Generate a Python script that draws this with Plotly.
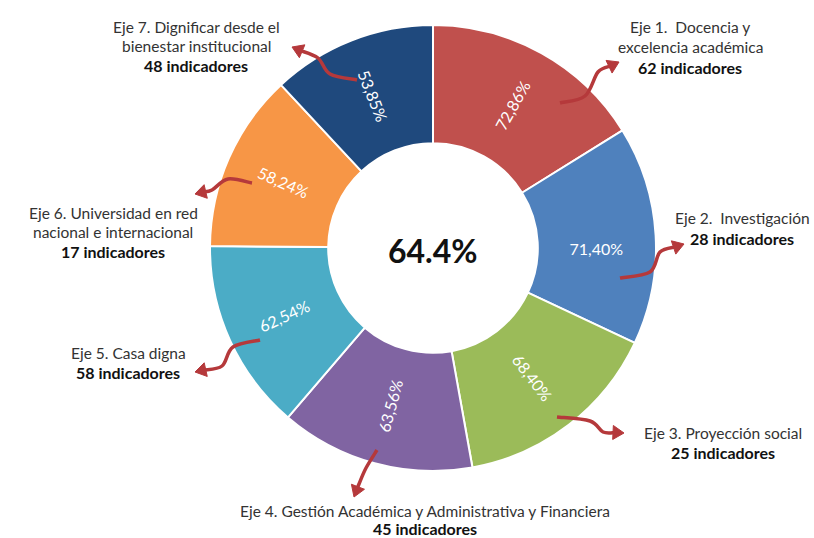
import plotly.graph_objects as go

# ---- data ----
ejes = ["Eje 1", "Eje 2", "Eje 3", "Eje 4", "Eje 5", "Eje 6", "Eje 7"]
cumplimiento = [72.86, 71.40, 68.40, 63.56, 62.54, 58.24, 53.85]
indicadores = [62, 28, 25, 45, 58, 17, 48]
nombres = [
    ["Eje 1.  Docencia y", "excelencia académica"],
    ["Eje 2.  Investigación"],
    ["Eje 3. Proyección social"],
    ["Eje 4. Gestión Académica y Administrativa y Financiera"],
    ["Eje 5. Casa digna"],
    ["Eje 6. Universidad en red", "nacional e internacional"],
    ["Eje 7. Dignificar desde el", "bienestar institucional"],
]
total = "64.4%"
colores = ["#C0504D", "#4F81BD", "#9BBB59", "#8064A2", "#4BACC6", "#F79646", "#1F497D"]

W, H = 814, 538
FONT = "Lato"

def px(x, y):
    return x / W, 1 - y / H

textos = [f"{v:.2f}".replace(".", ",") + "%" for v in cumplimiento]

fig = go.Figure()
cx, cy, r = 433, 248, 223
fig.add_trace(go.Pie(
    labels=ejes, values=cumplimiento, text=textos, textinfo="text",
    sort=False, direction="clockwise", rotation=0, hole=0.47,
    marker=dict(colors=colores, line=dict(color="white", width=2)),
    insidetextorientation="radial",
    textfont=dict(family=FONT, size=16, color="white"),
    domain=dict(x=[(cx - r) / W, (cx + r) / W], y=[1 - (cy + r) / H, 1 - (cy - r) / H]),
    showlegend=False, hoverinfo="label+text",
))

# label blocks: (center x, first line y, line height) in pixels
label_pos = [(690, 27, 20), (742, 218, 20), (723, 433, 19), (425, 511, 17),
             (128, 353, 19), (113, 213, 19), (196, 27, 19)]
annotations = []
for (lx, ly, lh), lines, n in zip(label_pos, nombres, indicadores):
    all_lines = [(l, False) for l in lines] + [(f"{n} indicadores", True)]
    for i, (t, b) in enumerate(all_lines):
        x, y = px(lx, ly + i * lh)
        annotations.append(dict(
            x=x, y=y, xref="paper", yref="paper", showarrow=False,
            text=f"<b>{t}</b>" if b else t,
            font=dict(family=FONT, size=16 if b else 15.5, color="#111" if b else "#333"),
            xanchor="center", yanchor="middle"))

x, y = px(cx, cy + 2)
annotations.append(dict(x=x, y=y, xref="paper", yref="paper", showarrow=False,
                        text=f"<b>{total}</b>", font=dict(family=FONT, size=32, color="#111"),
                        xanchor="center", yanchor="middle"))

# curvy connector arrows (pixel coordinates on an overlay axis)
arrows = [
    [(560, 103), (585, 96), (598, 72), (619, 62)],
    [(620, 278), (650, 272), (660, 252), (684, 244)],
    [(557, 417), (590, 421), (603, 432), (624, 433)],
    [(377, 450), (366, 468), (359, 484), (354, 497)],
    [(260, 340), (233, 347), (222, 366), (195, 372)],
    [(252, 183), (228, 179), (212, 190), (195, 194)],
    [(357, 80), (330, 74), (318, 58), (292, 47)],
]
AC = "#B5393B"
shapes = []
for pts in arrows:
    (x1, y1), (x0, y0) = pts[-1], pts[-2]
    dx, dy = x1 - x0, y1 - y0
    d = (dx * dx + dy * dy) ** 0.5
    ux, uy = dx / d, dy / d
    hl, hw = 11, 7
    bx, by = x1 - ux * hl, y1 - uy * hl
    line_pts = pts[:-1] + [(x1 - ux * (hl - 2), y1 - uy * (hl - 2))]
    P = [line_pts[0]] + line_pts + [line_pts[-1]]
    path = f"M{P[1][0]},{P[1][1]}"
    for i in range(1, len(P) - 2):
        p0, p1, p2, p3 = P[i - 1], P[i], P[i + 1], P[i + 2]
        c1 = (p1[0] + (p2[0] - p0[0]) / 6, p1[1] + (p2[1] - p0[1]) / 6)
        c2 = (p2[0] - (p3[0] - p1[0]) / 6, p2[1] - (p3[1] - p1[1]) / 6)
        path += f" C{c1[0]},{c1[1]} {c2[0]},{c2[1]} {p2[0]},{p2[1]}"
    shapes.append(dict(type="path", path=path, xref="x", yref="y", layer="above",
                       line=dict(color=AC, width=3.5)))
    tri = (f"M{x1},{y1} L{bx - uy * hw},{by + ux * hw} "
           f"L{bx + uy * hw},{by - ux * hw} Z")
    shapes.append(dict(type="path", path=tri, xref="x", yref="y", layer="above",
                       fillcolor=AC, line=dict(color=AC, width=1)))

fig.update_layout(
    width=W, height=H, margin=dict(l=0, r=0, t=0, b=0),
    paper_bgcolor="white", plot_bgcolor="rgba(0,0,0,0)",
    xaxis=dict(range=[0, W], visible=False, fixedrange=True, domain=[0, 1]),
    yaxis=dict(range=[H, 0], visible=False, fixedrange=True, domain=[0, 1]),
    annotations=annotations, shapes=shapes,
)
fig.write_html("out.html", config={"displayModeBar": False},
               post_script="document.body.style.margin='0';")
